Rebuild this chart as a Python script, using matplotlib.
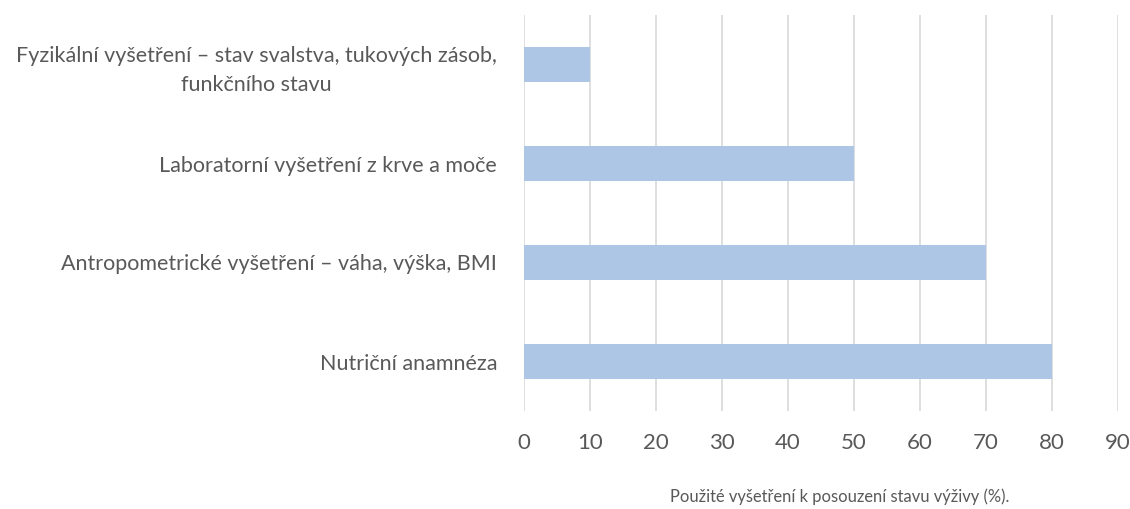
import matplotlib.pyplot as plt

# data, bottom to top as drawn by barh
categories = [
    'Nutriční anamnéza',
    'Antropometrické vyšetření – váha, výška, BMI',
    'Laboratorní vyšetření z krve a moče',
    'Fyzikální vyšetření – stav svalstva, tukových zásob,\nfunkčního stavu',
]
values = [80, 70, 50, 10]
x_ticks = [0, 10, 20, 30, 40, 50, 60, 70, 80, 90]
caption = 'Použité vyšetření k posouzení stavu výživy (%).'

text_color = '#595959'
plt.rcParams['font.family'] = ['Lato', 'DejaVu Sans']

fig = plt.figure(figsize=(11.3, 5.09), dpi=100)
ax = fig.add_axes([524 / 1130, 1 - 411 / 509, (1118 - 524) / 1130, (411 - 15) / 509])

ax.barh(range(len(categories)), values, height=0.355, color='#AEC6E5', zorder=2)

ax.set_xlim(0, 90)
ax.set_ylim(-0.5, len(categories) - 0.5)
ax.set_xticks(x_ticks)
ax.set_yticks(range(len(categories)))
ax.set_yticklabels(categories, ha='center', multialignment='center', linespacing=1.55)
ax.grid(True, axis='x', color='#D9D9D9', linewidth=1.2, zorder=0)
ax.tick_params(axis='x', length=0, pad=16, labelsize=16, labelcolor=text_color)
ax.tick_params(axis='y', length=0, labelsize=15.5, labelcolor=text_color)

# center the wrapped category labels on their text block, right edge near the axis
fig.canvas.draw()
renderer = fig.canvas.get_renderer()
for lab in ax.get_yticklabels():
    w = lab.get_window_extent(renderer).width
    lab.set_x(-(22 + w / 2) / (1118 - 524))
    lab.set_ha('center')

for s in ax.spines.values():
    s.set_visible(False)

fig.text(840 / 1130, 1 - 497 / 509, caption, ha='center', va='center',
         fontsize=11.9, color=text_color)

fig.savefig('out.png', dpi=100)
